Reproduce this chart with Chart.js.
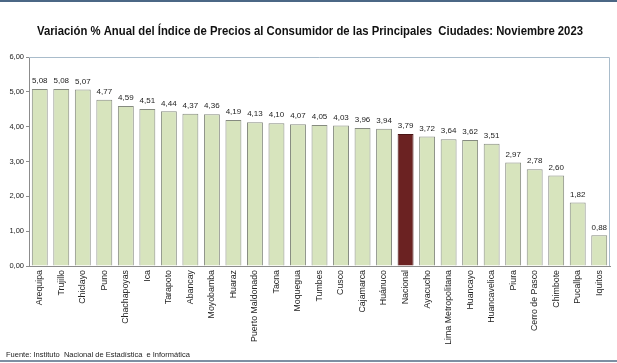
<!DOCTYPE html>
<html>
<head>
<meta charset="utf-8">
<script src="https://cdn.jsdelivr.net/npm/chart.js@4"></script>
<style>
  html, body { margin: 0; padding: 0; background: #fff; }
  canvas { display: block; }
</style>
</head>
<body>
<canvas id="ipcChart" width="617" height="363"></canvas>
<script>
const ciudades = ["Arequipa","Trujillo","Chiclayo","Puno","Chachapoyas","Ica","Tarapoto","Abancay","Moyobamba","Huaraz","Puerto Maldonado","Tacna","Moquegua","Tumbes","Cusco","Cajamarca","Huánuco","Nacional","Ayacucho","Lima Metropolitana","Huancayo","Huancavelica","Piura","Cerro de Pasco","Chimbote","Pucallpa","Iquitos"];
const variacion = [5.08,5.08,5.07,4.77,4.59,4.51,4.44,4.37,4.36,4.19,4.13,4.10,4.07,4.05,4.03,3.96,3.94,3.79,3.72,3.64,3.62,3.51,2.97,2.78,2.60,1.82,0.88];
const titulo = "Variación % Anual del Índice de Precios al Consumidor de las Principales  Ciudades: Noviembre 2023";
const fuente = "Fuente: Instituto  Nacional de Estadística  e Informática";

const fmt = v => v.toFixed(2).replace('.', ',');

// colores: Nacional resaltado
const relleno = ciudades.map(c => c === "Nacional" ? '#6b2222' : '#d7e4bd');
const borde = ciudades.map(c => c === "Nacional" ? '#4a1515' : '#868b80');

// titulo, marco, etiquetas de valor y fuente
const extras = {
  id: 'extras',
  afterDraw(chart) {
    const ctx = chart.ctx;
    const a = chart.chartArea;
    ctx.save();

    // lineas superior e inferior
    ctx.fillStyle = '#4b6785';
    ctx.fillRect(0, 0, 617, 2);
    ctx.fillStyle = '#7d8fa3';
    ctx.fillRect(0, 360, 617, 2);

    // titulo
    ctx.font = 'bold 13px "Liberation Sans", Arial, sans-serif';
    ctx.fillStyle = '#111';
    ctx.textBaseline = 'middle';
    const w = ctx.measureText(titulo).width;
    const sx = 546 / w;
    ctx.save();
    ctx.translate(37, 31);
    ctx.scale(sx, 1);
    ctx.textAlign = 'left';
    ctx.fillText(titulo, 0, 0);
    ctx.restore();

    // marco del area
    ctx.strokeStyle = '#a9bccb';
    ctx.lineWidth = 1;
    ctx.beginPath();
    ctx.moveTo(a.left, a.top + 0.5);
    ctx.lineTo(a.right - 0.5, a.top + 0.5);
    ctx.lineTo(a.right - 0.5, a.bottom);
    ctx.stroke();

    // etiquetas de valor
    const meta = chart.getDatasetMeta(0);
    ctx.font = '8px "Liberation Sans", Arial, sans-serif';
    ctx.fillStyle = '#222';
    ctx.textAlign = 'center';
    ctx.textBaseline = 'bottom';
    meta.data.forEach((bar, i) => {
      ctx.fillText(fmt(variacion[i]), bar.x, bar.y - 4);
    });

    // fuente
    ctx.font = '7.5px "Liberation Sans", Arial, sans-serif';
    ctx.textAlign = 'left';
    ctx.textBaseline = 'middle';
    ctx.fillStyle = '#222';
    ctx.fillText(fuente, 6, 355);
    ctx.restore();
  }
};

new Chart(document.getElementById('ipcChart').getContext('2d'), {
  type: 'bar',
  data: {
    labels: ciudades,
    datasets: [{
      data: variacion,
      backgroundColor: relleno,
      borderColor: borde,
      borderWidth: 1,
      barPercentage: 0.74,
      categoryPercentage: 1.0
    }]
  },
  options: {
    responsive: false,
    animation: false,
    layout: { padding: { left: 0, right: 7, top: 57, bottom: 0 } },
    plugins: {
      legend: { display: false },
      tooltip: { enabled: false }
    },
    scales: {
      x: {
        afterFit: s => { s.height = 97; },
        grid: { display: false, drawTicks: false },
        border: { display: true, color: '#8c8c8c', width: 1 },
        ticks: {
          autoSkip: false,
          minRotation: 90,
          maxRotation: 90,
          padding: 4,
          color: '#222',
          font: { family: '"Liberation Sans", Arial, sans-serif', size: 8.8 }
        }
      },
      y: {
        min: 0,
        max: 6,
        afterFit: s => { s.width = 29; },
        grid: { drawOnChartArea: false, drawTicks: true, tickLength: 3, color: '#8c8c8c' },
        border: { display: true, color: '#8c8c8c', width: 1 },
        ticks: {
          stepSize: 1,
          padding: 2,
          color: '#222',
          font: { family: '"Liberation Sans", Arial, sans-serif', size: 7.5 },
          callback: v => fmt(v)
        }
      }
    }
  },
  plugins: [extras]
});
</script>
</body>
</html>
